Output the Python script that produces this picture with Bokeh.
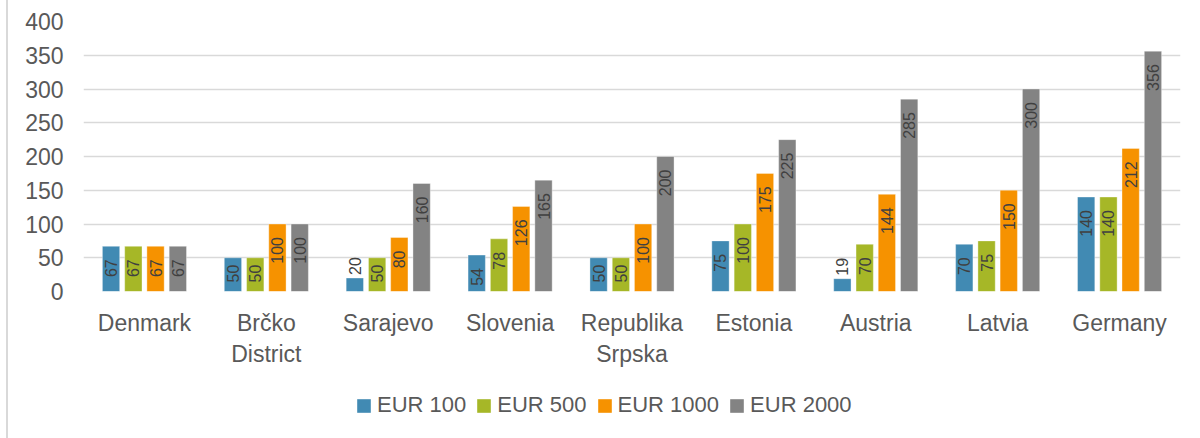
import math
from bokeh.plotting import figure
from bokeh.layouts import column
from bokeh.models import (ColumnDataSource, FactorRange, Range1d, Legend, LegendItem,
                          SingleIntervalTicker)
from bokeh.transform import dodge
from bokeh.embed import file_html
from bokeh.resources import INLINE

# ---- data ----
categories = ["Denmark", "Brčko\nDistrict", "Sarajevo", "Slovenia", "Republika\nSrpska",
              "Estonia", "Austria", "Latvia", "Germany"]
series_names = ["EUR 100", "EUR 500", "EUR 1000", "EUR 2000"]
eur_100 = [67, 50, 20, 54, 50, 75, 19, 70, 140]
eur_500 = [67, 50, 50, 78, 50, 100, 70, 75, 140]
eur_1000 = [67, 100, 80, 126, 100, 175, 144, 150, 212]
eur_2000 = [67, 100, 160, 165, 200, 225, 285, 300, 356]
y_max = 400
y_step = 50

# ---- style ----
colors = ["#418AB3", "#A6B727", "#F69200", "#838383"]
offsets = [-0.274, -0.091, 0.091, 0.274]
bar_w = 0.142
FONT = "Liberation Sans"
px_per_unit = 270 / y_max
label_px = 16

p = figure(width=1192, height=370, x_range=FactorRange(*categories, range_padding=0),
           y_range=Range1d(0, y_max), output_backend="svg", toolbar_location=None,
           min_border_left=75, min_border_right=20, min_border_top=21, min_border_bottom=79)
p.outline_line_color = None
p.background_fill_color = "white"

renderers = []
all_series = [eur_100, eur_500, eur_1000, eur_2000]
for name, vals, col, off in zip(series_names, all_series, colors, offsets):
    n_digits = [len(str(v)) for v in vals]
    yoff, align = [], []
    for v, nd in zip(vals, n_digits):
        h = v * px_per_unit
        L = nd * 0.556 * label_px
        if h >= L + 16:
            yoff.append(13); align.append("right")
        elif h >= L + 2:
            yoff.append(max(0, min(13, h - L - 9))); align.append("right")
        else:
            yoff.append(-3); align.append("left")
    src = ColumnDataSource(dict(cat=categories, val=vals, lbl=[str(v) for v in vals],
                                yoff=yoff, align=align))
    r = p.vbar(x=dodge("cat", off, range=p.x_range), top="val", width=bar_w, source=src,
               fill_color=col, line_color="white", line_width=0.6, line_alpha=0.6)
    renderers.append(r)
    p.text(x=dodge("cat", off, range=p.x_range), y="val", text="lbl", source=src,
           angle=math.pi / 2, text_align="align", text_baseline="middle",
           y_offset="yoff", text_font_size=f"{label_px}px", text_color="#404040",
           text_font={"value": FONT})

# axes
p.yaxis.ticker = SingleIntervalTicker(interval=y_step)
for ax in (p.xaxis[0], p.yaxis[0]):
    ax.axis_line_color = None
    ax.major_tick_line_color = None
    ax.minor_tick_line_color = None
    ax.major_tick_in = 0
    ax.major_tick_out = 0
    ax.minor_tick_out = 0
    ax.major_label_text_font = FONT
    ax.major_label_text_font_size = "23px"
    ax.major_label_text_color = "#595959"
p.yaxis.major_label_standoff = 20
p.xaxis.major_label_standoff = 18
p.xaxis.major_label_orientation = "horizontal"
p.xgrid.grid_line_color = None
p.ygrid.grid_line_color = "#D9D9D9"
p.ygrid.grid_line_width = 1.3

# ---- legend strip below the chart (swatch-only renderers, nothing drawn in the strip) ----
nan = float("nan")
lg = figure(width=1192, height=68, output_backend="svg", toolbar_location=None,
            x_range=Range1d(0, 1), y_range=Range1d(0, 1),
            min_border=0, min_border_left=0, min_border_right=0,
            min_border_top=0, min_border_bottom=0)
lg.axis.visible = False
lg.grid.visible = False
lg.outline_line_color = None
leg_rs = [lg.vbar(x=[nan], top=[nan], width=0.1, fill_color=c, line_color=None) for c in colors]
legend = Legend(items=[LegendItem(label=n, renderers=[r]) for n, r in zip(series_names, leg_rs)],
                orientation="horizontal", location=(272, 20),
                glyph_width=17, glyph_height=17, label_standoff=5, spacing=9,
                padding=0, margin=0, border_line_color=None, background_fill_alpha=0,
                label_text_font=FONT, label_text_font_size="22px", label_text_color="#595959")
lg.add_layout(legend, "center")

layout = column(p, lg, spacing=0)
layout.styles = {"border-left": "2px solid #D9D9D9", "margin-left": "6px"}

open("out.html", "w").write(file_html(layout, INLINE))
